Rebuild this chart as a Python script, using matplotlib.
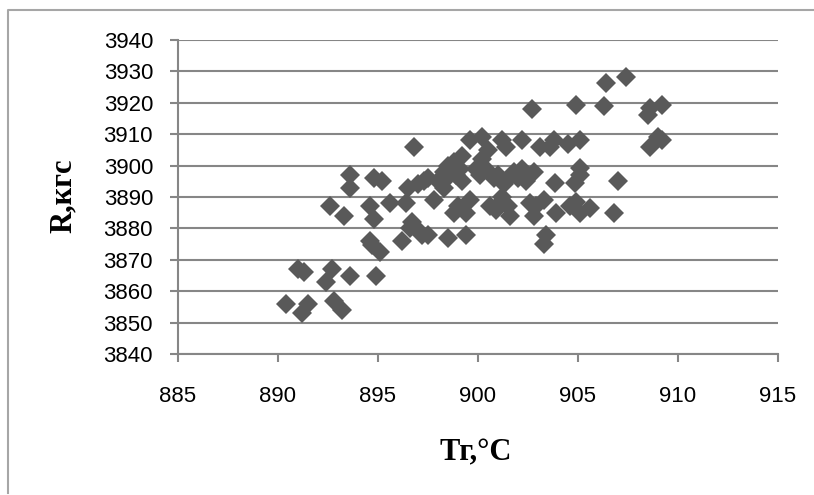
import matplotlib
matplotlib.use("Agg")
import matplotlib.pyplot as plt
from matplotlib.lines import Line2D

# Data
temp_c = [
    890.4, 891.0, 891.3, 891.2, 891.5, 892.4, 892.7, 892.8, 893.2, 892.6,
    893.3, 893.6, 893.6, 893.6, 894.6, 894.7, 895.1, 894.9, 894.6, 894.8,
    894.8, 895.2, 895.6, 896.2, 896.4, 896.5, 896.8, 896.7, 896.9, 897.2,
    897.0, 897.5, 897.5, 897.8, 898.0, 898.3, 898.5, 898.5, 898.6, 898.8,
    898.8, 899.0, 899.2, 899.2, 899.4, 899.4, 899.6, 899.6, 900.2, 900.2,
    900.5, 900.4, 900.6, 900.9, 901.0, 901.2, 901.3, 901.2, 901.4, 901.5,
    901.6, 901.8, 902.2, 902.2, 902.4, 902.6, 902.7, 902.8, 902.8, 903.1,
    903.3, 903.3, 903.4, 903.6, 903.8, 903.85, 903.9, 904.5, 904.85, 904.6,
    904.9, 905.1, 905.1, 905.1, 905.1, 904.9, 905.6, 906.3, 906.4, 906.8,
    907.0, 907.4, 908.5, 908.6, 908.6, 909.0, 909.2, 909.2, 898.3, 898.9,
    899.1, 900.8, 901.1, 901.7, 902.0, 897.3, 896.6, 899.9, 900.1, 902.9,
]
force_kgf = [
    3856, 3867, 3866, 3853, 3856, 3863, 3867, 3857, 3854, 3887,
    3884, 3865, 3897, 3893, 3876, 3874.7, 3872.6, 3865, 3887, 3883,
    3896, 3895, 3888, 3876, 3888, 3893, 3906, 3882, 3880, 3878,
    3894, 3896, 3878, 3889, 3895, 3893, 3877, 3900, 3897, 3901,
    3885, 3887, 3903, 3895, 3885, 3878, 3889, 3908, 3909, 3902,
    3905, 3899, 3887, 3886, 3897, 3890, 3894, 3908, 3906, 3887,
    3884, 3898, 3908, 3899, 3895, 3888, 3918, 3898, 3884, 3906,
    3889, 3875, 3878, 3906, 3908, 3894.4, 3885, 3907, 3894.4, 3887,
    3919.3, 3884.8, 3908.2, 3899.1, 3897, 3888.5, 3886.4, 3919, 3926.4, 3885,
    3895.1, 3928.3, 3916.1, 3918.2, 3906, 3909.2, 3919.3, 3908, 3898, 3897,
    3899, 3896, 3888, 3897, 3896, 3895, 3880, 3899, 3897, 3887,
]
x_ticks = [885, 890, 895, 900, 905, 910, 915]
y_ticks = [3840, 3850, 3860, 3870, 3880, 3890, 3900, 3910, 3920, 3930, 3940]
x_label = "Tг,°C"
y_label = "R,кгс"

W, H = 814, 495
fig = plt.figure(figsize=(W / 100, H / 100), dpi=100)
fig.patch.set_facecolor("white")

# chart frame (left and top edges visible)
frame_col = "#a6a6a6"
fig.add_artist(Line2D([8 / W, 8 / W, 1.0], [1 - 493 / H, 1 - 10 / H, 1 - 10 / H],
                      transform=fig.transFigure, color=frame_col, lw=1.5))

left, right, top, bottom = 178, 778, 40, 354
ax = fig.add_axes([left / W, 1 - bottom / H, (right - left) / W, (bottom - top) / H])

grid_col = "#868686"
ax.plot(temp_c, force_kgf, linestyle="none", marker="D", markersize=10.2,
        color="#595959", markeredgewidth=0, zorder=3, clip_on=False)

ax.set_xlim(885, 915)
ax.set_ylim(3840, 3940)
ax.set_xticks(x_ticks)
ax.set_yticks(y_ticks)
ax.yaxis.grid(True, color=grid_col, lw=1.5)
ax.set_axisbelow(True)
for s in ["top", "right"]:
    ax.spines[s].set_visible(False)
for s in ["left", "bottom"]:
    ax.spines[s].set_color(grid_col)
    ax.spines[s].set_linewidth(1.5)
ax.tick_params(axis="both", colors=grid_col, length=6, width=1.5, direction="out")
ax.tick_params(axis="y", pad=12, labelcolor="black", labelsize=16)
ax.tick_params(axis="x", pad=17, labelcolor="black", labelsize=16)
for lab in ax.get_xticklabels() + ax.get_yticklabels():
    lab.set_family(["Liberation Sans", "DejaVu Sans"])

serif = ["Liberation Serif", "DejaVu Serif"]
fig.text(476 / W, 1 - 453 / H, x_label, ha="center", va="center",
         fontsize=22, fontweight="bold", family=serif)
fig.text(63 / W, 1 - 196 / H, y_label, ha="center", va="center", rotation=90,
         fontsize=22, fontweight="bold", family=serif)

fig.savefig("out.png", dpi=100)
